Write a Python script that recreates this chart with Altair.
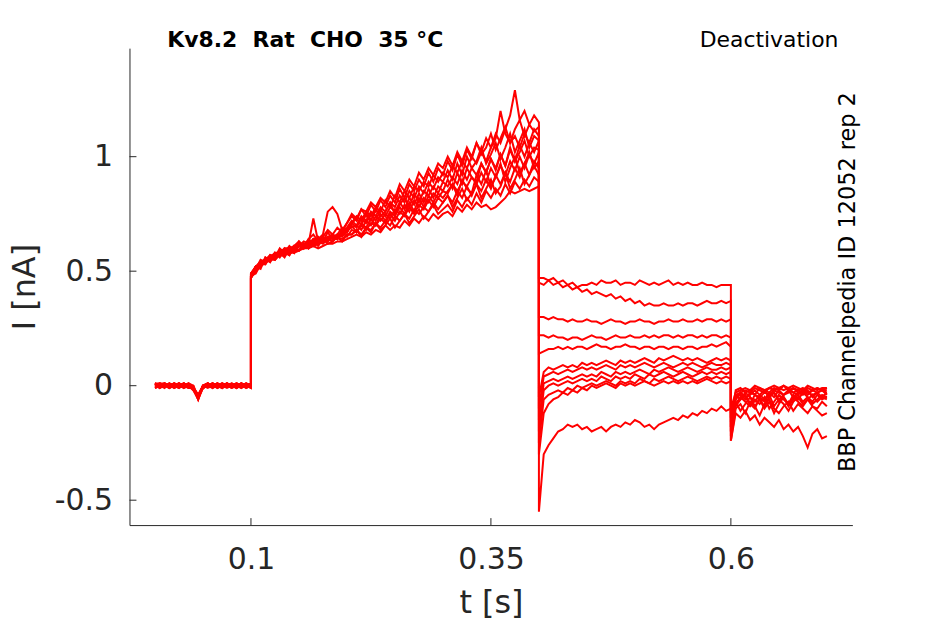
import altair as alt
import numpy as np
import pandas as pd

# ---- protocol segment boundaries (s) ----
T_HOLD = (0.0, 0.1)
T_ACT = (0.1, 0.4)
T_DEACT = (0.4, 0.6)
T_TAIL = (0.6, 0.7)

# ---- current values, in units of 0.01 nA ----
hold = [
    [1,0,1,0,0,1,0,-1,-1,-5,0,1,0,0,1,0,-1,0,0,1,0],
    [0,1,0,-1,1,0,1,0,-1,-4,-1,0,1,0,0,1,0,-1,1,0,0],
    [-1,0,0,1,0,-1,0,1,0,-5,0,0,-1,1,0,0,1,0,-1,0,1],
    [1,1,0,0,-1,0,1,0,-2,-6,-1,1,0,-1,0,1,0,0,1,-1,0],
    [0,-1,1,0,1,0,-1,0,-1,-4,0,1,0,1,-1,0,0,1,0,0,-1],
    [1,0,-1,1,0,1,0,0,-1,-5,-1,0,1,0,1,0,-1,0,1,0,0],
    [0,1,1,0,0,-1,1,0,0,-6,0,0,1,-1,0,1,0,1,0,-1,0],
    [-1,0,1,0,1,0,0,-1,-1,-5,0,1,0,0,-1,1,0,0,-1,1,0],
    [1,0,0,-1,0,1,0,1,-1,-4,0,-1,0,1,0,0,1,-1,0,0,1],
    [0,1,0,1,-1,0,1,0,-2,-5,-1,0,0,1,0,-1,0,1,0,1,0],
    [1,-1,0,0,1,0,0,1,-1,-6,0,1,-1,0,1,0,0,-1,1,0,0],
    [0,0,1,-1,0,1,-1,0,-1,-5,0,0,1,0,-1,1,0,0,1,0,-1],
]

act = [
    [47,50,52,54,55,55,57,57,58,58,59,60,60,61,60,61,62,62,63,63,64,
     65,66,65,67,66,68,67,70,68,70,69,72,70,73,71,74,72,75,73,75,
     76,74,78,76,79,77,80,78,79,77,78,80,82,85,84,85,86,85,86,87],
    [48,52,52,56,55,56,59,58,57,61,59,62,60,63,61,64,62,63,65,63,66,
     66,68,65,69,67,71,68,70,73,69,72,75,71,74,77,73,76,79,75,77,
     79,76,81,78,82,79,84,80,85,82,86,83,88,84,89,86,90,87,91,89],
    [49,52,53,55,56,56,58,58,59,59,61,60,62,61,63,62,64,63,65,64,66,
     66,68,66,69,68,71,69,72,70,74,72,75,73,77,75,78,76,80,77,80,
     83,78,82,86,81,84,88,82,86,90,84,87,93,86,90,95,88,92,96,92],
    [48,49,53,53,57,55,58,57,60,58,61,60,63,61,62,65,63,65,64,67,65,
     68,67,70,68,71,70,73,71,75,72,76,74,78,75,79,77,81,78,82,80,
     83,80,85,82,87,83,88,85,90,86,92,88,93,89,95,91,97,92,98,95],
    [47,51,53,54,55,57,58,58,59,60,59,61,62,61,63,63,64,65,64,66,67,
     70,67,71,69,73,70,75,72,76,74,78,75,80,76,82,78,83,80,84,82,
     85,88,83,90,86,84,92,88,94,87,91,97,89,95,100,93,97,102,95,98],
    [48,52,51,56,54,58,56,59,57,60,59,62,60,64,62,63,65,63,66,65,68,
     69,70,68,72,70,74,72,75,73,77,75,79,76,81,78,82,80,84,82,85,
     84,88,85,89,87,91,88,93,89,95,91,96,92,98,94,100,95,101,97,102],
    [49,52,54,55,57,57,58,59,60,60,61,61,62,73,63,64,64,65,66,66,68,
     71,69,73,71,75,72,77,74,78,76,80,77,82,79,84,80,86,82,87,85,
     90,86,93,88,95,91,89,97,93,99,94,101,96,104,98,102,107,100,104,103],
    [49,50,54,53,56,55,58,56,60,58,62,60,61,64,62,65,63,66,64,68,67,
     71,73,70,75,72,77,74,76,80,75,79,82,78,84,80,85,83,87,84,89,
     87,91,88,94,90,95,92,97,93,99,95,101,96,103,98,105,100,106,102,107],
    [47,51,53,55,56,57,57,59,59,60,61,61,63,62,64,64,65,66,65,67,69,
     72,70,74,72,76,74,78,76,80,78,83,80,85,82,87,84,89,86,91,89,
     94,90,97,92,100,95,98,104,97,101,106,99,104,110,102,107,112,104,109,107],
    [48,52,53,55,54,58,57,60,58,61,63,60,64,62,65,63,67,64,66,69,67,
     71,74,72,76,74,78,76,81,78,83,80,85,82,87,85,89,87,92,89,93,
     91,96,93,98,95,100,97,102,98,104,108,120,110,106,109,104,110,106,112,109],
    [48,52,54,55,56,58,58,60,60,61,61,63,62,64,64,66,76,78,75,68,71,
     74,72,77,74,79,76,81,78,83,80,86,82,88,85,90,87,93,89,95,92,
     98,94,101,96,103,99,106,101,104,110,103,108,113,106,112,116,109,114,111,113],
    [49,51,55,54,57,56,60,58,61,59,63,61,64,66,63,65,68,66,69,67,71,
     75,73,77,76,80,78,82,80,85,82,88,85,90,87,93,90,95,92,97,95,
     100,96,102,98,104,100,106,102,108,104,110,106,112,118,129,116,120,114,118,115],
]

deact = [
    [47,47,46,47,45,46,44,45,43,44,44,45,44,46,45,45,46,44,45,45,44,46,45,44,45,44,45,46,44,45,44,45,44,44,45,44,44,43,44,44,44],
    [45,44,46,44,45,43,44,42,43,41,42,40,41,40,39,40,38,39,37,38,36,37,35,36,35,35,36,35,35,36,35,36,36,35,36,37,36,36,37,36,37],
    [30,30,29,30,29,29,28,29,28,28,29,28,28,27,28,29,28,28,27,28,28,29,28,28,27,28,28,29,28,28,29,28,28,29,28,29,29,28,29,28,29],
    [22,22,21,22,21,21,20,21,21,20,21,22,21,21,20,21,22,21,21,22,21,21,22,21,22,21,22,22,21,22,21,22,22,21,22,21,22,22,21,22,21],
    [14,15,16,16,17,16,17,16,17,17,16,17,18,17,17,16,17,17,18,17,17,16,17,17,16,17,17,16,17,17,16,17,17,16,17,17,18,17,18,19,17],
    [-5,6,8,7,8,9,8,9,8,10,9,10,9,10,11,10,9,11,10,11,10,11,12,11,10,12,11,12,13,12,11,12,11,12,11,10,11,12,11,12,11],
    [-10,4,5,6,5,6,7,6,7,8,7,8,7,8,9,8,7,9,8,9,8,9,10,9,8,9,10,9,8,9,10,9,10,9,8,9,10,9,9,10,9],
    [-15,1,2,3,2,3,4,3,4,5,4,5,4,6,5,4,6,5,6,5,6,7,6,5,7,6,7,8,7,6,7,8,7,6,7,8,7,7,8,7,8],
    [-20,-2,0,1,0,1,2,1,2,3,2,3,2,4,3,2,4,3,4,3,5,4,3,5,4,5,6,5,4,5,6,5,4,5,6,5,6,5,6,5,6],
    [-25,-6,-4,-3,-2,-3,-1,-2,0,-1,0,1,0,1,2,1,0,2,1,2,1,3,2,1,3,2,3,4,3,2,3,4,3,2,3,4,3,4,3,4,3],
    [-30,-12,-8,-6,-5,-3,-4,-2,-3,-1,-2,0,-1,0,1,0,-1,1,0,1,0,1,2,1,0,1,2,1,2,1,2,1,2,1,2,3,2,1,2,1,2],
    [-55,-30,-26,-23,-20,-19,-17,-18,-17,-19,-18,-20,-19,-18,-20,-18,-17,-18,-16,-17,-15,-16,-18,-17,-19,-17,-16,-15,-14,-15,-13,-14,-12,-13,-11,-12,-10,-11,-9,-11,-10],
]

tail = [
    [-10,-3,-2,-1,-2,0,-1,-2,-1,0,-1,-2,-1,0,-1,-2,0,-1,-2,-1,-1],
    [-14,-4,-3,-2,-3,-1,-2,-3,-1,-2,-1,0,-2,-1,-2,-3,-1,-2,-1,-2,-2],
    [-18,-5,-4,-6,-3,-4,-5,-3,-4,-2,-3,-4,-2,-3,-4,-2,-3,-4,-3,-2,-3],
    [-12,-6,-3,-5,-4,-2,-4,-6,-3,-5,-2,-4,-3,-1,-3,-2,-4,-2,-3,-5,-3],
    [-20,-8,-5,-7,-9,-6,-8,-5,-10,-7,-4,-6,-8,-5,-7,-9,-6,-4,-7,-5,-6],
    [-16,-2,-1,-3,-2,-4,-1,-2,-3,-1,-2,0,-1,-3,-2,-1,-3,-2,-1,-2,-1],
    [-22,-9,-6,-4,-8,-10,-5,-7,-4,-9,-6,-8,-11,-7,-5,-8,-6,-9,-10,-7,-9],
    [-14,-4,-6,-3,-5,-7,-4,-2,-5,-3,-6,-4,-2,-5,-3,-4,-2,-5,-3,-2,-4],
    [-24,-10,-8,-12,-7,-9,-13,-8,-6,-10,-12,-9,-7,-11,-8,-10,-12,-9,-11,-13,-12],
    [-18,-6,-3,-5,-8,-4,-6,-9,-5,-3,-7,-5,-8,-4,-6,-3,-5,-7,-4,-6,-5],
    [-20,-7,-11,-8,-5,-9,-6,-10,-7,-12,-8,-5,-9,-6,-4,-7,-5,-8,-6,-4,-5],
    [-24,-12,-14,-11,-15,-13,-17,-14,-16,-18,-15,-19,-17,-20,-18,-22,-27,-21,-19,-23,-22],
]

x_ticks = [0.1, 0.35, 0.6]
y_ticks = [-0.5, 0, 0.5, 1]
x_title = "t [s]"
y_title = "I [nA]"
left_label = "Kv8.2\u00a0 Rat\u00a0 CHO\u00a0 35 °C"
right_label = "Deactivation"
side_label = "BBP Channelpedia ID 12052 rep 2"

# ---- build long table ----
rows = []
for i in range(len(act)):
    k = 0
    for seg, (t0, t1) in ((hold[i], T_HOLD), (act[i], T_ACT),
                          (deact[i], T_DEACT), (tail[i], T_TAIL)):
        ts = np.linspace(t0, t1, len(seg))
        for t, v in zip(ts, seg):
            rows.append({"trace": i, "k": k, "t": float(t), "I": v / 100.0})
            k += 1
df = pd.DataFrame(rows)

W, H = 726, 479
AX = "#262626"
FONT = "DejaVu Sans"

xs = alt.Scale(domain=[-0.02656, 0.72656], nice=False, zero=False)
ys = alt.Scale(domain=[-0.6087, 1.4739], nice=False, zero=False)

lbl_expr = "datum.value < 0 ? '-' + format(-datum.value, '~g') : format(datum.value, '~g')"

x_axis = alt.Axis(values=x_ticks, title=x_title, grid=False, ticks=False, tickSize=0,
                  domainColor=AX, domainWidth=1, labelFont=FONT, labelFontSize=30,
                  labelColor=AX, labelPadding=20, labelExpr=lbl_expr, labelFlush=False,
                  titleFont=FONT, titleFontSize=32, titleFontWeight="normal", titleColor=AX,
                  titleBaseline="alphabetic", titleX=W / 2, titleY=88, titleAlign="center")
y_axis = alt.Axis(values=y_ticks, title=y_title, grid=False, ticks=False, tickSize=0,
                  domainColor=AX, domainWidth=1, labelFont=FONT, labelFontSize=30,
                  labelColor=AX, labelPadding=17, labelExpr=lbl_expr, labelFlush=False,
                  titleFont=FONT, titleFontSize=32, titleFontWeight="normal", titleColor=AX,
                  titleAngle=270, titleBaseline="alphabetic", titleX=-95, titleY=H / 2,
                  titleAlign="center")

lines = alt.Chart(df).mark_line(color="#ff0000", strokeWidth=2).encode(
    x=alt.X("t:Q", scale=xs, axis=x_axis),
    y=alt.Y("I:Q", scale=ys, axis=y_axis),
    detail="trace:N",
    order="k:Q",
)

ytick = alt.Chart(pd.DataFrame({"I": y_ticks})).mark_rule(color=AX, strokeWidth=1).encode(
    y=alt.Y("I:Q", scale=ys, axis=y_axis), x=alt.value(0), x2=alt.value(7))
xtick = alt.Chart(pd.DataFrame({"t": x_ticks})).mark_rule(color=AX, strokeWidth=1).encode(
    x=alt.X("t:Q", scale=xs, axis=x_axis), y=alt.value(H), y2=alt.value(H - 7))

t_left = alt.Chart(pd.DataFrame({"label": [left_label]})).mark_text(
    font=FONT, fontSize=22, fontWeight="bold", color="#000000", align="left",
    baseline="alphabetic").encode(text="label:N", x=alt.value(38), y=alt.value(-1))
t_right = alt.Chart(pd.DataFrame({"label": [right_label]})).mark_text(
    font=FONT, fontSize=22, color="#000000", align="right",
    baseline="alphabetic").encode(text="label:N", x=alt.value(712), y=alt.value(-1))
t_side = alt.Chart(pd.DataFrame({"label": [side_label]})).mark_text(
    font=FONT, fontSize=22.5, color="#000000", align="center", angle=270,
    baseline="alphabetic").encode(text="label:N", x=alt.value(729), y=alt.value(235))

chart = alt.layer(lines, ytick, xtick, t_left, t_right, t_side).properties(
    width=W, height=H,
    autosize=alt.AutoSizeParams(type="none"),
    padding={"left": 122, "top": 39, "right": 85, "bottom": 94},
).configure_view(strokeWidth=0)

chart.save("out.html", embed_options={"renderer": "svg", "actions": False})
